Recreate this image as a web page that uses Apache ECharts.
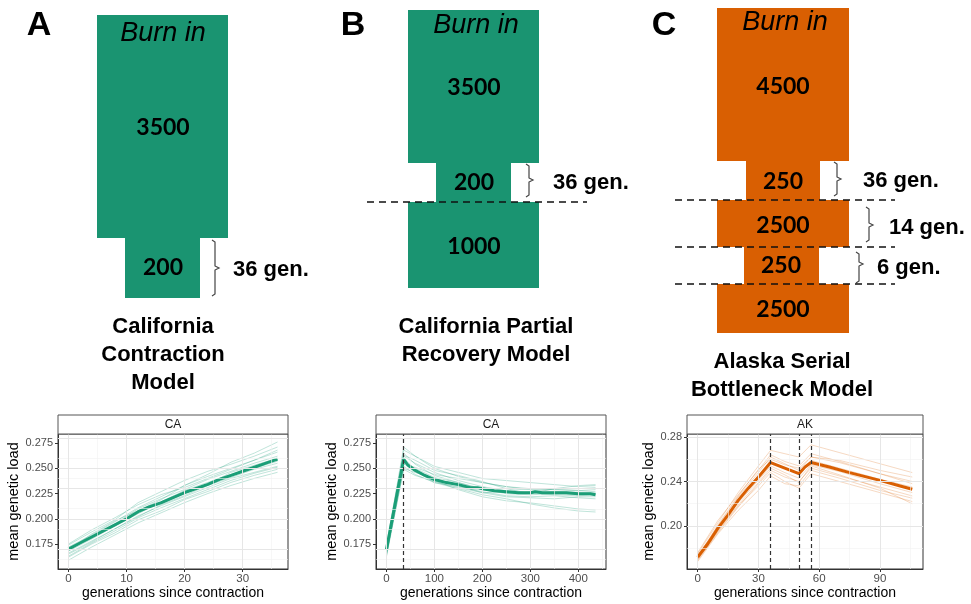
<!DOCTYPE html>
<html><head><meta charset="utf-8">
<script src="https://cdn.jsdelivr.net/npm/echarts@6/dist/echarts.min.js"></script>
<style>html,body{margin:0;padding:0;background:#fff}#c{width:971px;height:604px}</style>
</head><body><div id="c"></div>
<script>
// ---------------- DATA ----------------
// Panel A: California Contraction Model (CA)
const stripA = 'CA';
const genA_rep = [0, 4, 8, 12, 16, 20, 24, 28, 32, 36];
const repsA = [
  [0.172,0.184,0.197,0.211,0.222,0.233,0.244,0.256,0.265,0.276],
  [0.166,0.178,0.190,0.203,0.213,0.222,0.231,0.240,0.246,0.252],
  [0.175,0.189,0.201,0.214,0.224,0.231,0.240,0.249,0.258,0.268],
  [0.162,0.175,0.186,0.199,0.208,0.219,0.227,0.236,0.243,0.249],
  [0.170,0.181,0.195,0.210,0.220,0.229,0.239,0.247,0.255,0.262],
  [0.168,0.180,0.193,0.205,0.217,0.228,0.236,0.244,0.250,0.257],
  [0.174,0.187,0.199,0.216,0.227,0.238,0.247,0.254,0.262,0.271],
  [0.159,0.172,0.184,0.196,0.206,0.216,0.225,0.233,0.240,0.246],
  [0.171,0.183,0.194,0.207,0.215,0.225,0.234,0.246,0.253,0.260],
  [0.165,0.177,0.190,0.202,0.214,0.223,0.233,0.241,0.249,0.255],
  [0.169,0.185,0.198,0.208,0.219,0.233,0.242,0.250,0.258,0.266],
  [0.163,0.176,0.188,0.201,0.211,0.220,0.229,0.238,0.245,0.251]
];
const genA_mean = [0,2,4,6,8,10,12,14,16,18,20,22,24,26,28,30,32,34,36];
const meanA = [0.170,0.176,0.182,0.188,0.194,0.200,0.207,0.212,0.216,0.221,0.226,0.230,0.234,0.239,0.243,0.247,0.251,0.255,0.259];
const eventsA = [];

// Panel B: California Partial Recovery Model (CA)
const stripB = 'CA';
const genB_rep = [0, 36, 60, 100, 150, 200, 250, 300, 350, 400, 436];
const repsB = [
  [0.172,0.268,0.262,0.252,0.246,0.240,0.238,0.236,0.234,0.232,0.233],
  [0.166,0.252,0.244,0.236,0.230,0.224,0.220,0.215,0.211,0.208,0.207],
  [0.170,0.262,0.255,0.246,0.238,0.232,0.228,0.230,0.229,0.228,0.229],
  [0.163,0.250,0.246,0.240,0.233,0.226,0.222,0.221,0.220,0.222,0.222],
  [0.174,0.271,0.262,0.250,0.242,0.236,0.232,0.230,0.229,0.230,0.231],
  [0.168,0.257,0.250,0.241,0.236,0.230,0.225,0.224,0.225,0.224,0.225],
  [0.171,0.260,0.249,0.238,0.229,0.222,0.218,0.216,0.213,0.210,0.209],
  [0.165,0.254,0.251,0.244,0.240,0.236,0.232,0.229,0.227,0.228,0.227],
  [0.169,0.265,0.254,0.243,0.236,0.229,0.226,0.226,0.224,0.223,0.224],
  [0.172,0.258,0.248,0.236,0.232,0.227,0.223,0.222,0.223,0.221,0.220],
  [0.167,0.263,0.258,0.248,0.243,0.237,0.230,0.225,0.230,0.233,0.234],
  [0.164,0.249,0.243,0.237,0.231,0.226,0.227,0.227,0.225,0.226,0.226]
];
const genB_mean = [0,12,24,36,45,60,80,100,125,150,175,190,200,225,250,275,300,310,325,350,375,400,425,436];
const meanB = [0.170,0.200,0.230,0.259,0.253,0.248,0.243,0.239,0.236,0.234,0.231,0.231,0.230,0.228,0.227,0.226,0.226,0.227,0.226,0.226,0.226,0.225,0.225,0.224];
const eventsB = [36];

// Panel C: Alaska Serial Bottleneck Model (AK)
const stripC = 'AK';
const genC_rep = [0, 10, 20, 30, 36, 43, 50, 56, 70, 90, 106];
const repsC = [
  [0.175,0.203,0.230,0.254,0.268,0.265,0.262,0.273,0.266,0.256,0.248],
  [0.170,0.195,0.218,0.236,0.248,0.240,0.234,0.247,0.240,0.230,0.222],
  [0.173,0.200,0.226,0.248,0.262,0.256,0.250,0.262,0.257,0.247,0.240],
  [0.168,0.193,0.214,0.232,0.245,0.238,0.236,0.250,0.243,0.232,0.225],
  [0.176,0.205,0.228,0.250,0.264,0.258,0.254,0.265,0.258,0.247,0.238],
  [0.171,0.197,0.221,0.241,0.254,0.248,0.243,0.255,0.249,0.238,0.230],
  [0.174,0.198,0.224,0.245,0.258,0.252,0.248,0.259,0.252,0.242,0.235],
  [0.169,0.194,0.217,0.238,0.250,0.244,0.240,0.252,0.245,0.235,0.227],
  [0.172,0.201,0.227,0.251,0.260,0.255,0.252,0.262,0.259,0.250,0.244],
  [0.170,0.196,0.219,0.239,0.252,0.246,0.239,0.254,0.246,0.234,0.220]
];
const genC_mean = [0,5,10,15,20,25,30,36,43,50,53,56,65,75,90,100,106];
const meanC = [0.172,0.184,0.198,0.210,0.223,0.234,0.244,0.257,0.252,0.247,0.253,0.257,0.253,0.248,0.241,0.236,0.233];
const eventsC = [36, 50, 56];

// Tick values & labels
const xTicksA = [0, 10, 20, 30];
const xMinorA = [5, 15, 25, 35];
const xTicksB = [0, 100, 200, 300, 400];
const xMinorB = [50, 150, 250, 350, 450];
const xTicksC = [0, 30, 60, 90];
const xMinorC = [15, 45, 75, 105];
const yTicksAB = [0.175, 0.200, 0.225, 0.250, 0.275];
const yLabelsAB = ['0.175', '0.200', '0.225', '0.250', '0.275'];
const yMinorAB = [0.1625, 0.1875, 0.2125, 0.2375, 0.2625];
const yTicksC = [0.20, 0.24, 0.28];
const yLabelsC = ['0.20', '0.24', '0.28'];
const yMinorC = [0.18, 0.22, 0.26];

const xTitle = 'generations since contraction';
const yTitle = 'mean genetic load';

// Schematic texts
const burnIn = 'Burn in';
const sizesA = ['3500', '200'];
const sizesB = ['3500', '200', '1000'];
const sizesC = ['4500', '250', '2500', '250', '2500'];
const gensA = ['36 gen.'];
const gensB = ['36 gen.'];
const gensC = ['36 gen.', '14 gen.', '6 gen.'];
const titleA = 'California\nContraction\nModel';
const titleB = 'California Partial\nRecovery Model';
const titleC = 'Alaska Serial\nBottleneck Model';
const letters = ['A', 'B', 'C'];

// ---------------- STYLE / LAYOUT ----------------
const GREEN = '#1b9e77', ORANGE = '#d95f02';
const GREEN_BOX = '#1a9471', ORANGE_BOX = '#d95f02';
const FONT = '"Liberation Sans", Arial, Helvetica, sans-serif';
const NUMFONT = 'Lato, "Liberation Sans", sans-serif';

const grids = [
  {left: 58, top: 434, width: 230, height: 135},
  {left: 376, top: 434, width: 230, height: 135},
  {left: 687, top: 434, width: 236, height: 135}
];
const xRanges = [[-1.8, 37.8], [-21.8, 457.8], [-5.3, 111.3]];
const yRanges = [[0.1503, 0.2839], [0.1508, 0.2839], [0.1613, 0.2827]];
const yNameGaps = [31, 29, 23];

const panels = [
  {reps: repsA, gr: genA_rep, mg: genA_mean, mean: meanA, ev: eventsA, color: GREEN, rgba: 'rgba(27,158,119,0.35)',
   xt: xTicksA, xm: xMinorA, yt: yTicksAB, yl: yLabelsAB, ym: yMinorAB, strip: stripA},
  {reps: repsB, gr: genB_rep, mg: genB_mean, mean: meanB, ev: eventsB, color: GREEN, rgba: 'rgba(27,158,119,0.35)',
   xt: xTicksB, xm: xMinorB, yt: yTicksAB, yl: yLabelsAB, ym: yMinorAB, strip: stripB},
  {reps: repsC, gr: genC_rep, mg: genC_mean, mean: meanC, ev: eventsC, color: ORANGE, rgba: 'rgba(217,95,2,0.3)',
   xt: xTicksC, xm: xMinorC, yt: yTicksC, yl: yLabelsC, ym: yMinorC, strip: stripC}
];

const option = {
  animation: false,
  backgroundColor: '#fff',
  grid: [], xAxis: [], yAxis: [], series: [], graphic: []
};

panels.forEach((p, i) => {
  const g = grids[i];
  option.grid.push(Object.assign({show: true, borderColor: '#333', borderWidth: 1, backgroundColor: '#fff', containLabel: false}, g));
  option.xAxis.push({
    type: 'value', gridIndex: i, min: xRanges[i][0], max: xRanges[i][1], position: 'bottom',
    axisLine: {show: true, onZero: false, lineStyle: {color: '#333', width: 1}}, splitLine: {show: false},
    axisTick: {show: true, inside: false, length: 3, lineStyle: {color: '#333'}, customValues: p.xt},
    axisLabel: {customValues: p.xt, margin: 4, color: '#4d4d4d', fontSize: 11.5, fontFamily: FONT, formatter: v => String(Math.round(v))},
    name: xTitle, nameLocation: 'middle', nameGap: 17,
    nameTextStyle: {fontSize: 14, color: '#000', fontFamily: FONT, verticalAlign: 'top'}
  });
  option.yAxis.push({
    type: 'value', gridIndex: i, min: yRanges[i][0], max: yRanges[i][1], position: 'left',
    axisLine: {show: true, onZero: false, lineStyle: {color: '#333', width: 1}}, splitLine: {show: false},
    axisTick: {show: true, inside: false, length: 3, lineStyle: {color: '#333'}, customValues: p.yt},
    axisLabel: {customValues: p.yt, margin: 5, color: '#4d4d4d', fontSize: 11, fontFamily: FONT,
      formatter: v => { const k = p.yt.findIndex(t => Math.abs(t - v) < 1e-6); return k >= 0 ? p.yl[k] : ''; }},
    name: yTitle, nameLocation: 'middle', nameGap: yNameGaps[i], nameRotate: 90,
    nameTextStyle: {fontSize: 14.5, color: '#000', fontFamily: FONT}
  });
  // grid lines
  const gl = [];
  p.xm.forEach(v => gl.push({xAxis: v, lineStyle: {color: '#f2f2f2', width: 0.6, type: 'solid'}}));
  p.ym.forEach(v => gl.push({yAxis: v, lineStyle: {color: '#f2f2f2', width: 0.6, type: 'solid'}}));
  p.xt.forEach(v => gl.push({xAxis: v, lineStyle: {color: '#e6e6e6', width: 1, type: 'solid'}}));
  p.yt.forEach(v => gl.push({yAxis: v, lineStyle: {color: '#e6e6e6', width: 1, type: 'solid'}}));
  option.series.push({
    type: 'line', xAxisIndex: i, yAxisIndex: i, data: [], z: 1, silent: true,
    markLine: {silent: true, symbol: ['none', 'none'], label: {show: false}, animation: false, data: gl}
  });
  // replicates
  p.reps.forEach(r => {
    option.series.push({
      type: 'line', xAxisIndex: i, yAxisIndex: i, z: 2, silent: true, symbol: 'none',
      data: p.gr.map((x, k) => [x, r[k]]),
      lineStyle: {color: p.rgba, width: 0.8}
    });
  });
  // event lines
  if (p.ev.length) {
    option.series.push({
      type: 'line', xAxisIndex: i, yAxisIndex: i, data: [], z: 3, silent: true,
      markLine: {silent: true, symbol: ['none', 'none'], label: {show: false}, animation: false,
        data: p.ev.map(v => ({xAxis: v, lineStyle: {color: '#333', width: 1.2, type: [4, 3]}}))}
    });
  }
  // mean
  option.series.push({
    type: 'line', xAxisIndex: i, yAxisIndex: i, z: 4, silent: true, symbol: 'none',
    data: p.mg.map((x, k) => [x, p.mean[k]]),
    lineStyle: {color: p.color, width: 3}
  });
  // strip
  option.graphic.push({type: 'rect', shape: {x: g.left, y: 415, width: g.width, height: 19},
    style: {fill: '#fff', stroke: '#555', lineWidth: 1}, z: 10});
  option.graphic.push({type: 'text', x: g.left + g.width / 2, y: 425,
    style: {text: p.strip, fill: '#1a1a1a', font: '12px ' + FONT, textAlign: 'center', textVerticalAlign: 'middle'}, z: 11});
});

// ---------------- SCHEMATICS ----------------
const G = option.graphic;
function box(x, y, w, h, fill) { G.push({type: 'rect', shape: {x, y, width: w, height: h}, style: {fill}, z: 5}); }
function txt(t, x, y, font, align) {
  G.push({type: 'text', x, y, style: {text: t, fill: '#000', font, textAlign: align || 'center', textVerticalAlign: 'middle', lineHeight: 28}, z: 6});
}
function brace(xv, y0, y1, ym) {
  G.push({type: 'polyline', shape: {points: [[xv - 3, y0], [xv, y0 + 2], [xv, ym - 2], [xv + 4, ym], [xv, ym + 2], [xv, y1 - 2], [xv - 3, y1]]},
    style: {stroke: '#444', lineWidth: 1.2, fill: null}, z: 6});
}
function dash(x0, x1, y) {
  G.push({type: 'line', shape: {x1: x0, y1: y, x2: x1, y2: y}, style: {stroke: '#111', lineWidth: 1.6, lineDash: [7, 5]}, z: 7});
}
const BURN = 'italic 27px ' + FONT;
const NUM = 'bold 23px ' + NUMFONT;
const GEN = 'bold 22px ' + FONT;
const TTL = 'bold 22px ' + FONT;
const LET = 'bold 34px ' + FONT;

// A
txt(letters[0], 39, 26, LET);
box(97, 15, 131, 223, GREEN_BOX);
box(125, 238, 75, 60, GREEN_BOX);
txt(burnIn, 163, 33, BURN);
txt(sizesA[0], 163, 128, NUM);
txt(sizesA[1], 163, 268, NUM);
brace(215, 240, 296, 268);
txt(gensA[0], 233, 270, GEN, 'left');
txt(titleA, 163, 355, TTL);

// B
txt(letters[1], 353, 26, LET);
box(408, 10, 131, 153, GREEN_BOX);
box(436, 163, 75, 39, GREEN_BOX);
box(408, 202, 131, 86, GREEN_BOX);
txt(burnIn, 476, 25, BURN);
txt(sizesB[0], 474, 88, NUM);
txt(sizesB[1], 474, 183, NUM);
txt(sizesB[2], 474, 247, NUM);
dash(367, 587, 202);
brace(529, 164, 197, 180);
txt(gensB[0], 553, 183, GEN, 'left');
txt(titleB, 486, 341, TTL);

// C
txt(letters[2], 664, 26, LET);
box(717, 8, 132, 153, ORANGE_BOX);
box(746, 161, 74, 39, ORANGE_BOX);
box(717, 200, 132, 47, ORANGE_BOX);
box(744, 247, 75, 37, ORANGE_BOX);
box(717, 284, 132, 49, ORANGE_BOX);
txt(burnIn, 785, 22, BURN);
txt(sizesC[0], 783, 87, NUM);
txt(sizesC[1], 783, 182, NUM);
txt(sizesC[2], 783, 226, NUM);
txt(sizesC[3], 781, 266, NUM);
txt(sizesC[4], 783, 310, NUM);
dash(675, 895, 200);
dash(675, 895, 247);
dash(675, 895, 284);
brace(837, 162, 196, 179);
brace(869, 207, 242, 225);
brace(859, 252, 283, 264);
txt(gensC[0], 863, 181, GEN, 'left');
txt(gensC[1], 889, 228, GEN, 'left');
txt(gensC[2], 877, 268, GEN, 'left');
txt(titleC, 782, 376, TTL);

const chart = echarts.init(document.getElementById('c'), null, {renderer: 'canvas'});
chart.setOption(option);
</script></body></html>
